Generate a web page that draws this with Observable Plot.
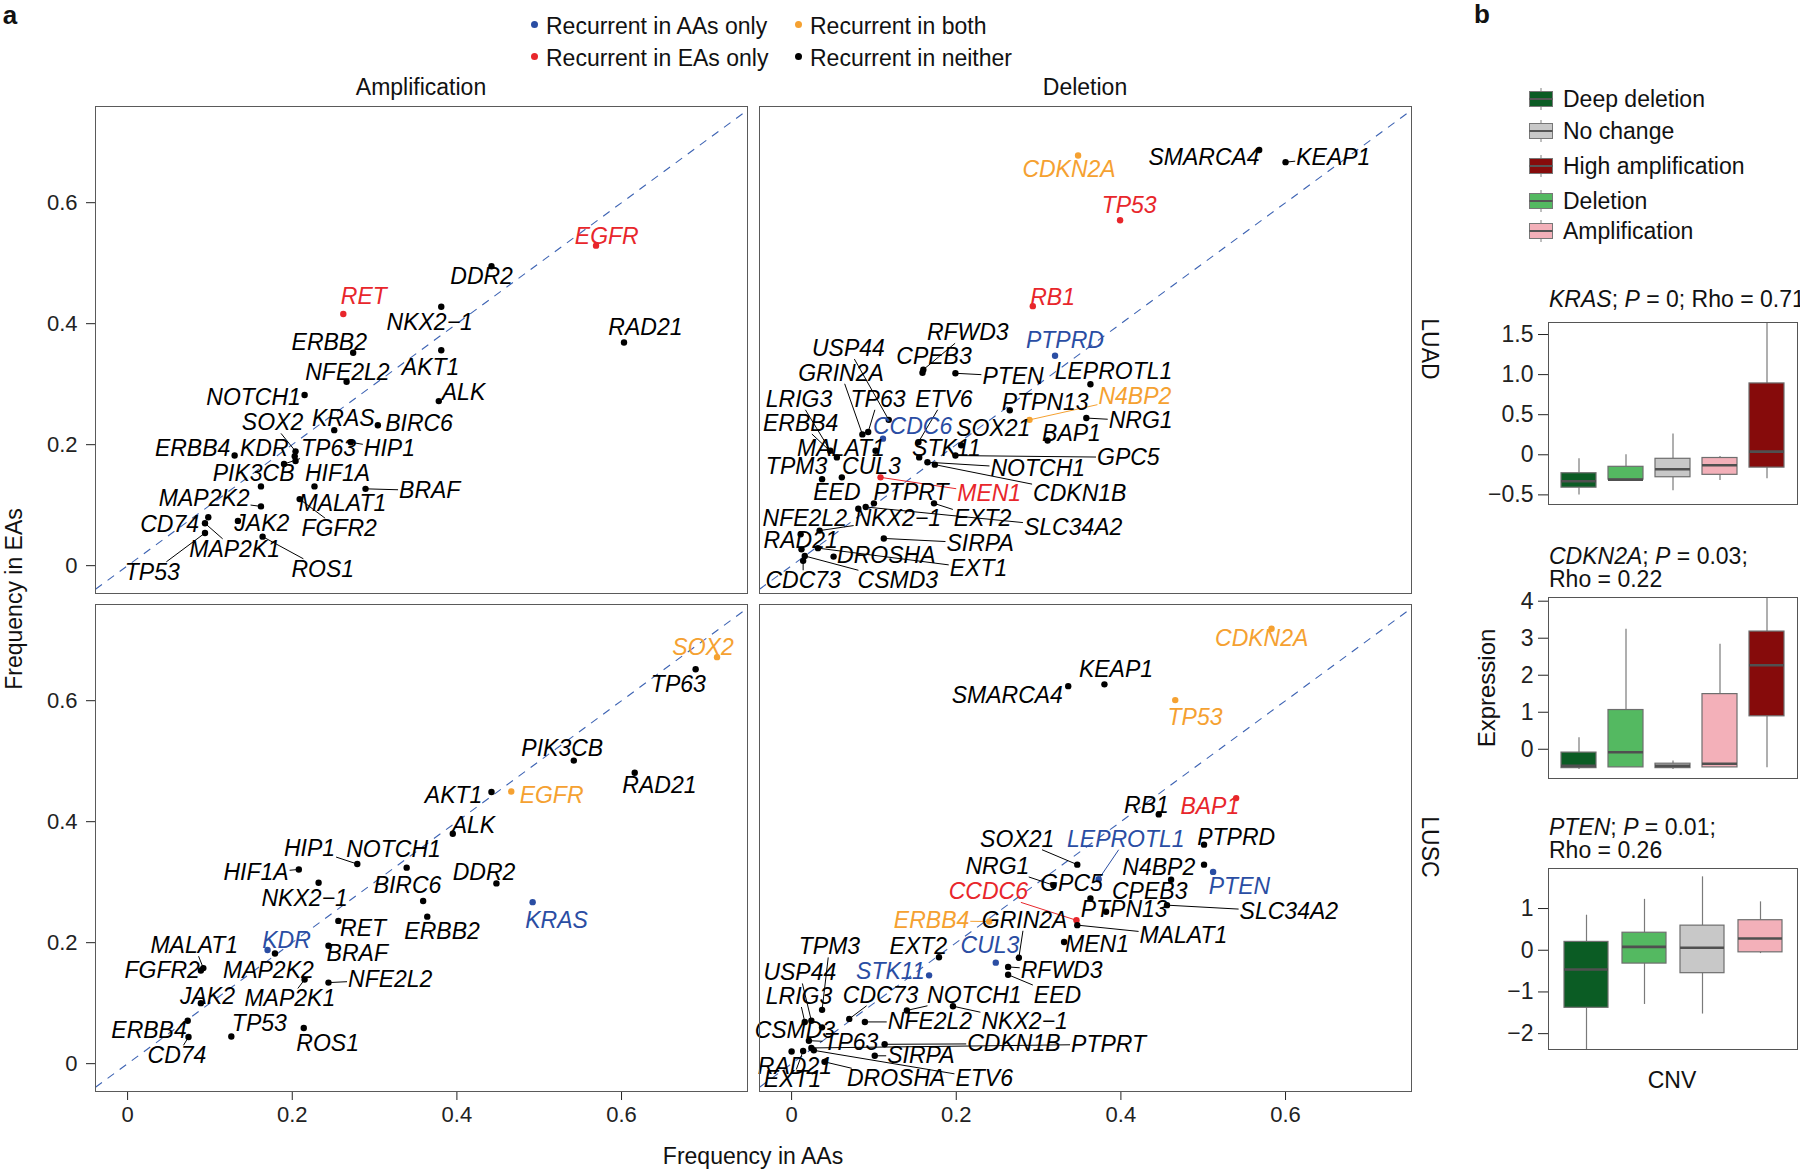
<!DOCTYPE html>
<html><head><meta charset="utf-8">
<script src="https://cdn.jsdelivr.net/npm/d3@7"></script>
<script src="https://cdn.jsdelivr.net/npm/@observablehq/plot@0.6"></script>
<style>
body{margin:0;background:#fff;}
#root{position:relative;width:1800px;height:1170px;overflow:hidden;font-family:"Liberation Sans",Arial,Helvetica,sans-serif;color:#111;}
.abs{position:absolute;white-space:nowrap;}
svg{overflow:visible;}
</style></head><body><div id="root"></div>
<script>
// ---------------- DATA ----------------
const categoryKeys = ["AA","EA","both","none"];
const categoryNames = ["Recurrent in AAs only","Recurrent in EAs only","Recurrent in both","Recurrent in neither"];

// LUAD amplification
const luadAmpGenes = ["EGFR","DDR2","RET","NKX2-1","RAD21","ERBB2","AKT1","NFE2L2","NOTCH1","ALK","KRAS","BIRC6","SOX2","ERBB4","KDR","TP63","HIP1","PIK3CB","HIF1A","BRAF","MAP2K2","MALAT1","CD74","JAK2","FGFR2","MAP2K1","TP53","ROS1"];
const luadAmpCat = ["EA","none","EA","none","none","none","none","none","none","none","none","none","none","none","none","none","none","none","none","none","none","none","none","none","none","none","none","none"];
const luadAmpAA = [.569,.442,.262,.381,.603,.274,.381,.266,.215,.378,.251,.304,.204,.130,.203,.190,.271,.162,.204,.289,.162,.227,.098,.134,.209,.094,.094,.164];
const luadAmpEA = [.529,.495,.416,.428,.369,.352,.356,.304,.282,.272,.224,.232,.189,.182,.181,.168,.204,.131,.173,.127,.098,.131,.080,.074,.110,.070,.054,.048];
const luadAmpLabX = [.582,.430,.287,.367,.629,.245,.368,.267,.153,.408,.262,.354,.176,.079,.166,.244,.318,.153,.255,.367,.093,.261,.051,.163,.257,.130,.030,.237];
const luadAmpLabY = [.544,.478,.445,.402,.393,.369,.328,.319,.278,.286,.243,.235,.236,.193,.193,.193,.193,.152,.152,.124,.110,.102,.068,.069,.061,.027,-.011,-.006];

// LUAD deletion
const luadDelGenes = ["CDKN2A","SMARCA4","KEAP1","TP53","RB1","RFWD3","PTPRD","USP44","CPEB3","PTEN","LEPROTL1","GRIN2A","LRIG3","TP63","ETV6","PTPN13","N4BP2","NRG1","ERBB4","CCDC6","SOX21","BAP1","MALAT1","STK11","GPC5","NOTCH1","CDKN1B","TPM3","CUL3","MEN1","EED","PTPRT","EXT2","SLC34A2","NFE2L2","NKX2-1","RAD21","SIRPA","DROSHA","EXT1","CDC73","CSMD3"];
const luadDelCat = ["both","none","none","EA","EA","none","AA","none","none","none","none","none","none","none","none","none","both","none","none","AA","none","none","none","none","none","none","none","none","none","EA","none","none","none","none","none","none","none","none","none","none","none","none"];
const luadDelAA = [.348,.568,.600,.399,.293,.160,.320,.118,.159,.199,.363,.086,.047,.093,.154,.265,.289,.358,.055,.111,.206,.311,.102,.155,.199,.165,.174,.037,.061,.108,.081,.100,.173,.090,.011,.034,.012,.112,.051,.032,.014,.016];
const luadDelEA = [.678,.687,.667,.571,.429,.324,.347,.241,.319,.318,.300,.217,.190,.221,.204,.257,.241,.244,.179,.210,.199,.207,.190,.179,.182,.171,.167,.143,.146,.146,.094,.103,.103,.097,.052,.058,.027,.045,.015,.029,.008,.016];
const luadDelLabX = [.337,.501,.658,.410,.317,.214,.332,.069,.173,.269,.391,.060,.009,.105,.185,.308,.417,.424,.011,.147,.245,.340,.060,.188,.409,.299,.350,.006,.097,.240,.055,.145,.232,.342,.016,.129,.011,.229,.115,.227,.014,.129];
const luadDelLabY = [.655,.675,.675,.595,.443,.385,.372,.359,.345,.313,.320,.318,.275,.275,.275,.269,.280,.239,.235,.230,.227,.218,.193,.193,.179,.160,.119,.163,.163,.119,.120,.120,.077,.063,.077,.077,.041,.037,.016,-.005,-.025,-.025];

// LUSC amplification
const luscAmpGenes = ["SOX2","TP63","PIK3CB","RAD21","AKT1","EGFR","ALK","HIP1","NOTCH1","HIF1A","NKX2-1","DDR2","BIRC6","KRAS","ERBB2","RET","KDR","MALAT1","FGFR2","MAP2K2","BRAF","NFE2L2","MAP2K1","JAK2","ERBB4","CD74","TP53","ROS1"];
const luscAmpCat = ["both","none","none","none","none","both","none","none","none","none","none","none","none","AA","none","none","AA","none","none","none","none","none","none","none","none","none","none","none"];
const luscAmpAA = [.716,.690,.542,.616,.442,.466,.395,.279,.339,.208,.232,.448,.359,.492,.364,.256,.170,.092,.089,.179,.244,.244,.215,.089,.073,.074,.126,.214];
const luscAmpEA = [.672,.652,.501,.481,.449,.450,.380,.330,.324,.321,.299,.298,.269,.267,.243,.236,.188,.158,.154,.182,.195,.134,.139,.100,.071,.044,.045,.059];
const luscAmpLabX = [.699,.669,.528,.646,.396,.515,.420,.221,.323,.156,.215,.433,.340,.521,.382,.286,.193,.081,.042,.171,.279,.319,.197,.097,.026,.060,.160,.243];
const luscAmpLabY = [.688,.627,.521,.460,.443,.443,.393,.356,.354,.315,.273,.315,.295,.237,.218,.224,.204,.195,.153,.154,.182,.139,.107,.111,.055,.013,.066,.033];

// LUSC deletion
const luscDelGenes = ["CDKN2A","KEAP1","SMARCA4","TP53","RB1","BAP1","PTPRD","SOX21","LEPROTL1","N4BP2","PTEN","NRG1","GPC5","CPEB3","CCDC6","SLC34A2","PTPN13","GRIN2A","ERBB4","MALAT1","MEN1","TPM3","EXT2","CUL3","RFWD3","EED","USP44","STK11","LRIG3","CDC73","NOTCH1","NKX2-1","NFE2L2","CSMD3","TP63","CDKN1B","PTPRT","SIRPA","RAD21","EXT1","DROSHA","ETV6"];
const luscDelCat = ["both","none","none","both","none","EA","none","none","AA","none","AA","none","none","none","EA","none","none","none","both","none","none","none","none","AA","none","none","none","AA","none","none","none","none","none","none","none","none","none","none","none","none","none","none"];
const luscDelAA = [.583,.380,.336,.466,.446,.540,.501,.347,.373,.501,.512,.318,.363,.461,.346,.456,.382,.276,.240,.347,.331,.037,.179,.248,.263,.263,.024,.167,.016,.070,.140,.196,.089,.037,.021,.113,.024,.101,.000,.014,.040,.027];
const luscDelEA = [.719,.627,.624,.601,.412,.439,.362,.329,.305,.329,.317,.295,.273,.304,.237,.262,.251,.175,.235,.229,.201,.089,.176,.167,.160,.147,.071,.146,.069,.074,.088,.095,.069,.060,.038,.032,.026,.013,.020,.021,.003,.022];
const luscDelLabX = [.571,.394,.262,.490,.431,.508,.540,.274,.406,.446,.544,.250,.340,.435,.239,.604,.404,.283,.170,.476,.371,.046,.154,.241,.328,.323,.010,.120,.009,.108,.222,.283,.168,.004,.072,.270,.385,.157,.004,.001,.127,.234];
const luscDelLabY = [.702,.651,.608,.572,.426,.425,.373,.371,.371,.324,.293,.326,.298,.284,.284,.251,.254,.237,.236,.211,.196,.193,.193,.195,.153,.113,.150,.152,.111,.113,.113,.069,.069,.055,.035,.033,.032,.013,-.005,-.027,-.025,-.025];

const freqTicks = [0, 0.2, 0.4, 0.6];

// Panel b: expression by CNV
const cnvLevels = ["Deep deletion","Deletion","No change","Amplification","High amplification"];
const legendOrder = ["Deep deletion","No change","High amplification","Deletion","Amplification"];

const krasLow  = [-0.50, -0.31, -0.45, -0.32, -0.30];
const krasQ1   = [-0.41, -0.31, -0.28, -0.25, -0.16];
const krasMed  = [-0.33, -0.31, -0.18, -0.13,  0.04];
const krasQ3   = [-0.23, -0.15, -0.05, -0.04,  0.89];
const krasHigh = [-0.05,  0.00,  0.26, -0.02,  1.90];
const krasTicks = [-0.5, 0, 0.5, 1.0, 1.5];

const cdkn2aLow  = [-0.55, -0.49, -0.55, -0.49, -0.50];
const cdkn2aQ1   = [-0.51, -0.49, -0.51, -0.49,  0.89];
const cdkn2aMed  = [-0.45, -0.08, -0.45, -0.39,  2.27];
const cdkn2aQ3   = [-0.09,  1.06, -0.39,  1.49,  3.18];
const cdkn2aHigh = [ 0.31,  3.24, -0.32,  2.84,  4.40];
const cdkn2aTicks = [0, 1, 2, 3, 4];

const ptenLevels = ["Deep deletion","Deletion","No change","Amplification"];
const ptenLow  = [-2.60, -1.30, -1.53, -0.08];
const ptenQ1   = [-1.38, -0.32, -0.55, -0.05];
const ptenMed  = [-0.46,  0.08,  0.06,  0.28];
const ptenQ3   = [ 0.20,  0.42,  0.59,  0.72];
const ptenHigh = [ 0.84,  1.22,  1.76,  1.16];
const ptenTicks = [-2, -1, 0, 1];

// ---------------- STYLE ----------------
const FONT = '"Liberation Sans", Arial, Helvetica, sans-serif';
const catColor = {AA: "#2a4da3", EA: "#e8262b", both: "#f5a131", none: "#000000"};
const cnvColor = {"Deep deletion": "#0b5c24", "Deletion": "#54b961", "No change": "#c8c8c8", "Amplification": "#f3b0b9", "High amplification": "#860b0b"};

const TXT = 23;
const xDomain = [-0.039, 0.753];
const yDomain = [-0.046, 0.759];
const PW = 652, PH = 487;
const kx = PW / (xDomain[1] - xDomain[0]);
const ky = PH / (yDomain[1] - yDomain[0]);
const LABEL_SIZE = 23, HALF_H = 8.5;

const root = document.getElementById("root");
const cv = document.createElement("canvas");
const ctx = cv.getContext("2d");
function textWidth(s) { ctx.font = `italic ${LABEL_SIZE}px ${FONT}`; return ctx.measureText(s).width; }

function rowsOf(genes, xs, ys, cats, lxs, lys) {
  return genes.map((g, i) => ({gene: g, label: g.replace("-", "\u2212"), x: xs[i], y: ys[i], color: catColor[cats[i]], lx: lxs[i], ly: lys[i]}));
}
function leadersOf(rows) {
  const out = [];
  for (const r of rows) {
    const hw = textWidth(r.label) / 2;
    const dx = (r.x - r.lx) * kx, dy = (r.y - r.ly) * ky;
    const gap = Math.max(Math.abs(dx) - hw, Math.abs(dy) - HALF_H);
    if (gap > 10) {
      const t = Math.min(dx ? (hw + 1) / Math.abs(dx) : Infinity, dy ? (HALF_H + 2) / Math.abs(dy) : Infinity);
      out.push({...r, ex: r.lx + t * (r.x - r.lx), ey: r.ly + t * (r.y - r.ly)});
    }
  }
  return out;
}
const fmtFreq = d => d === 0 ? "0" : d.toFixed(1);

function place(el, left, top) {
  el.style.position = "absolute"; el.style.left = left + "px"; el.style.top = top + "px";
  root.appendChild(el); return el;
}
function addText(html, cx, cy, {size = TXT, rotate = 0, anchor = "center", weight = "normal", color = "#111"} = {}) {
  const d = document.createElement("div");
  d.className = "abs";
  d.innerHTML = html;
  d.style.fontSize = size + "px"; d.style.fontWeight = weight; d.style.color = color; d.style.lineHeight = "1";
  d.style.left = cx + "px"; d.style.top = cy + "px";
  if (rotate) { d.style.transformOrigin = "0 0"; d.style.transform = `rotate(${rotate}deg) translate(-50%,-50%)`; }
  else d.style.transform = `translate(${anchor === "center" ? "-50%" : "0"},-50%)`;
  root.appendChild(d); return d;
}

function scatter(rows, {showX, showY, left, top}) {
  const mL = showY ? 90 : 1, mB = showX ? 45 : 1;
  const diag = [{a: xDomain[0], b: xDomain[1]}];
  const svg = Plot.plot({
    width: mL + PW + 1, height: 1 + PH + mB,
    marginLeft: mL, marginRight: 1, marginTop: 1, marginBottom: mB,
    style: {fontFamily: FONT, fontSize: "22px", color: "#222", background: "transparent", overflow: "visible"},
    color: {type: "identity"},
    x: {domain: xDomain, ticks: freqTicks, tickFormat: fmtFreq, tickSize: 9, tickPadding: 6, label: null, axis: showX ? "bottom" : null},
    y: {domain: yDomain, ticks: freqTicks, tickFormat: fmtFreq, tickSize: 9, tickPadding: 9, label: null, axis: showY ? "left" : null},
    marks: [
      Plot.link(diag, {x1: "a", y1: "a", x2: "b", y2: "b", stroke: "#3d63b3", strokeDasharray: "8,7", strokeWidth: 1.1, clip: true}),
      Plot.link(leadersOf(rows), {x1: "x", y1: "y", x2: "ex", y2: "ey", stroke: "color", strokeWidth: 1}),
      Plot.dot(rows, {x: "x", y: "y", r: 3.2, fill: "color"}),
      Plot.text(rows, {x: "lx", y: "ly", text: "label", fill: "color", fontSize: LABEL_SIZE, fontStyle: "italic"}),
      Plot.frame({stroke: "#5a5a5a"})
    ]
  });
  place(svg, left - mL, top - 1);
}

scatter(rowsOf(luadAmpGenes, luadAmpAA, luadAmpEA, luadAmpCat, luadAmpLabX, luadAmpLabY), {showX: false, showY: true, left: 95, top: 106});
scatter(rowsOf(luadDelGenes, luadDelAA, luadDelEA, luadDelCat, luadDelLabX, luadDelLabY), {showX: false, showY: false, left: 759, top: 106});
scatter(rowsOf(luscAmpGenes, luscAmpAA, luscAmpEA, luscAmpCat, luscAmpLabX, luscAmpLabY), {showX: true, showY: true, left: 95, top: 604});
scatter(rowsOf(luscDelGenes, luscDelAA, luscDelEA, luscDelCat, luscDelLabX, luscDelLabY), {showX: true, showY: false, left: 759, top: 604});

// panel a texts
addText("a", 10, 15, {size: 26, weight: "bold"});
const legendPos = [[531, 26], [531, 58], [795, 26], [795, 58]];
categoryKeys.forEach((k, i) => {
  const [bx, by] = legendPos[i];
  const d = document.createElement("div");
  d.className = "abs";
  d.style.left = bx + "px"; d.style.top = (by - 13) + "px"; d.style.height = "26px"; d.style.lineHeight = "26px";
  d.style.fontSize = TXT + "px";
  d.innerHTML = `<span style="display:inline-block;width:7px;height:7px;border-radius:50%;background:${catColor[k]};vertical-align:middle;margin-right:8px;position:relative;top:-3px"></span>${categoryNames[i]}`;
  root.appendChild(d);
});
addText("Amplification", 421, 87);
addText("Deletion", 1085, 87);
addText("LUAD", 1429, 349, {rotate: 90});
addText("LUSC", 1429, 847, {rotate: 90});
addText("Frequency in EAs", 14, 599, {rotate: -90});
addText("Frequency in AAs", 753, 1156);

// panel b
addText("b", 1482, 14, {size: 26, weight: "bold"});
const legendY = [99, 131, 166, 201, 231];
legendOrder.forEach((lv, i) => {
  const d = document.createElement("div");
  d.className = "abs";
  d.style.left = "1528px"; d.style.top = (legendY[i] - 14) + "px"; d.style.height = "28px"; d.style.lineHeight = "28px"; d.style.fontSize = TXT + "px";
  d.innerHTML = `<svg width="26" height="28" style="vertical-align:top;margin-right:9px"><line x1="13" y1="3" x2="13" y2="25" stroke="#808080"/><rect x="1.5" y="6.5" width="23" height="15" fill="${cnvColor[lv]}" stroke="#777"/><line x1="1.5" y1="14" x2="24.5" y2="14" stroke="#555" stroke-width="2"/></svg>${lv}`;
  root.appendChild(d);
});

function boxPlot(levels, low, q1, med, q3, high, yDom, ticks, fmt, top, height) {
  const rows = levels.map((c, i) => ({cnv: c, low: low[i], q1: q1[i], med: med[i], q3: q3[i], high: high[i], color: cnvColor[c]}));
  const mL = 75;
  const svg = Plot.plot({
    width: mL + 249 + 1, height: height + 2,
    marginLeft: mL, marginRight: 1, marginTop: 1, marginBottom: 1,
    style: {fontFamily: FONT, fontSize: TXT + "px", color: "#222", background: "transparent", overflow: "visible"},
    color: {type: "identity"},
    x: {type: "band", domain: levels, padding: 0.25, axis: null},
    y: {domain: yDom, ticks: ticks, tickFormat: fmt, tickSize: 10, tickPadding: 5, label: null},
    marks: [
      Plot.ruleX(rows, {x: "cnv", y1: "low", y2: "q1", stroke: "#7a7a7a", strokeWidth: 1.2, clip: true}),
      Plot.ruleX(rows, {x: "cnv", y1: "q3", y2: "high", stroke: "#7a7a7a", strokeWidth: 1.2, clip: true}),
      Plot.barY(rows, {x: "cnv", y1: "q1", y2: "q3", fill: "color", stroke: "#6e6e6e", strokeWidth: 1.2}),
      Plot.tickY(rows, {x: "cnv", y: "med", stroke: "#505050", strokeWidth: 2.6}),
      Plot.frame({stroke: "#555"})
    ]
  });
  place(svg, 1548 - mL, top - 1);
}
const fmtDec = d => d === 0 ? "0" : d.toFixed(1).replace("-", "\u2212");
const fmtInt = d => String(d).replace("-", "\u2212");

addText("<i>KRAS</i>; <i>P</i> = 0; Rho = 0.71", 1549, 299, {anchor: "left"});
boxPlot(cnvLevels, krasLow, krasQ1, krasMed, krasQ3, krasHigh, [-0.62, 1.65], krasTicks, fmtDec, 322, 182);
addText("<i>CDKN2A</i>; <i>P</i> = 0.03;", 1549, 556, {anchor: "left"});
addText("Rho = 0.22", 1549, 579, {anchor: "left"});
boxPlot(cnvLevels, cdkn2aLow, cdkn2aQ1, cdkn2aMed, cdkn2aQ3, cdkn2aHigh, [-0.79, 4.10], cdkn2aTicks, fmtInt, 597, 181);
addText("<i>PTEN</i>; <i>P</i> = 0.01;", 1549, 827, {anchor: "left"});
addText("Rho = 0.26", 1549, 850, {anchor: "left"});
boxPlot(ptenLevels, ptenLow, ptenQ1, ptenMed, ptenQ3, ptenHigh, [-2.38, 1.96], ptenTicks, fmtInt, 868, 181);
addText("Expression", 1487, 688, {rotate: -90, size: 24});
addText("CNV", 1672, 1080);
</script></body></html>
